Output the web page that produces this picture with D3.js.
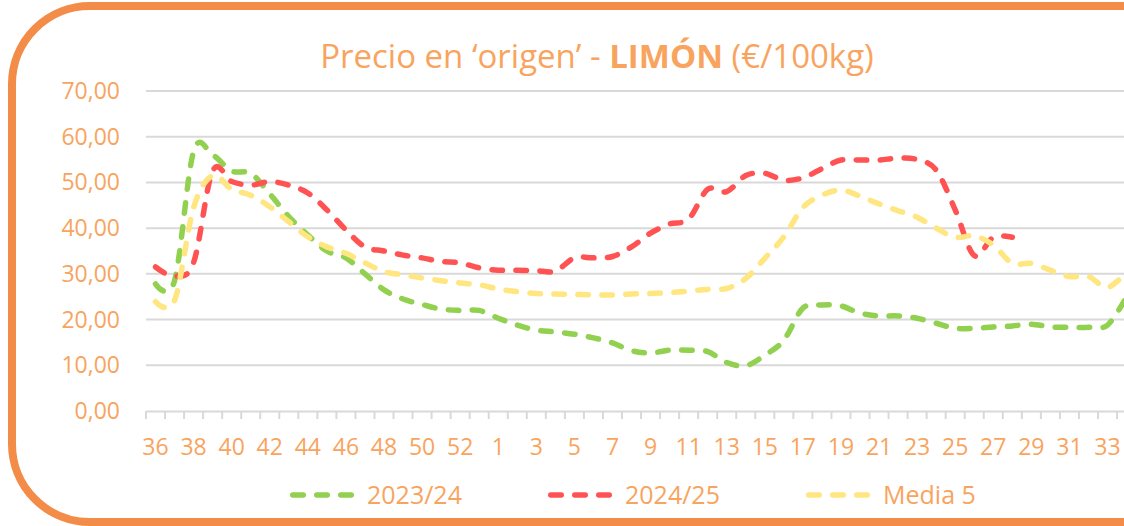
<!DOCTYPE html>
<html>
<head>
<meta charset="utf-8">
<script src="https://cdn.jsdelivr.net/npm/d3@7"></script>
<style>
  body { margin: 0; background: #fff; }
  svg  { display: block; font-family: 'Open Sans', sans-serif; }
</style>
</head>
<body>
<svg id="chart" width="1124" height="526"></svg>
<script>
'use strict';

// weeks of the campaign (36..53, then 1..35)
const weeks = [ '36','37','38','39','40','41','42','43','44','45','46','47','48','49','50','51','52','53',
                '1','2','3','4','5','6','7','8','9','10','11','12','13','14','15','16','17','18','19','20',
                '21','22','23','24','25','26','27','28','29','30','31','32','33','34','35' ];

// €/100kg per week
const s2324 = [ 27.8, 28.5, 56.8, 56.0, 52.5, 52.0, 47.5, 42.5, 38.5, 35.0, 33.5, 30.0, 26.5, 24.5, 23.3, 22.3, 22.0, 22.0,
                20.3, 18.8, 17.7, 17.3, 16.8, 16.0, 14.9, 13.2, 12.7, 13.3, 13.3, 13.0, 10.6, 9.9, 12.2, 15.5, 22.5, 23.2, 23.0, 21.4,
                20.8, 20.8, 20.3, 19.2, 18.1, 18.1, 18.4, 18.6, 19.0, 18.4, 18.3, 18.3, 18.8, 25.0, null ];

const s2425 = [ 31.5, 29.5, 32.5, 52.5, 50.2, 49.4, 50.2, 49.4, 47.7, 44.0, 39.6, 35.9, 35.0, 34.1, 33.5, 32.7, 32.4, 31.3,
                30.8, 30.8, 30.7, 30.6, 33.5, 33.5, 33.8, 35.9, 38.9, 40.9, 42.0, 48.5, 48.0, 51.5, 52.0, 50.5, 51.0, 53.0, 54.9, 54.9,
                54.9, 55.3, 55.0, 52.7, 44.0, 34.0, 38.0, 38.0, null, null, null, null, null, null, null ];

const media5 = [ 23.9, 24.2, 44.5, 51.5, 48.5, 47.2, 44.7, 41.4, 38.1, 35.9, 34.5, 32.4, 30.5, 29.8, 29.1, 28.5, 28.0, 27.6,
                 26.7, 26.1, 25.7, 25.6, 25.5, 25.4, 25.4, 25.6, 25.7, 25.9, 26.2, 26.6, 26.8, 29.0, 33.4, 38.1, 44.5, 47.2, 48.3, 47.0,
                 45.3, 43.8, 42.4, 40.0, 38.0, 38.3, 36.3, 32.3, 32.3, 30.8, 29.4, 29.4, 27.0, 30.5, null ];

const seriesNames  = [ '2023/24', '2024/25', 'Media 5' ];
const seriesColors = [ '#92D050', '#FF5353', '#FFE680' ];
const yTicks       = [ 0, 10, 20, 30, 40, 50, 60, 70 ];

const series = [ s2324, s2425, media5 ].map( (vals, i) => ({ name: seriesNames[i], color: seriesColors[i], values: vals }) );

const textColor = '#F8A45E',
      gridColor = '#D9D9D9';

const svg = d3.select( '#chart' );

// frame
svg.append( 'rect' )
    .attr( 'x', 12 ).attr( 'y', 6 )
    .attr( 'width', 1400 ).attr( 'height', 516 )
    .attr( 'rx', 78 ).attr( 'ry', 78 )
    .attr( 'fill', '#fff' )
    .attr( 'stroke', '#F28C48' )
    .attr( 'stroke-width', 8 );

// scales
const x = d3.scaleBand()
            .domain( weeks )
            .range( [ 146, 146 + weeks.length * 19.04 ] )
            .padding( 0 );
const y = d3.scaleLinear()
            .domain( [ 0, 70 ] )
            .range( [ 411, 91 ] );

const fmt = d3.formatLocale( { decimal: ',', thousands: '.', grouping: [3], currency: [ '', '€' ] } ).format( '.2f' );

// title
const title = svg.append( 'text' )
    .attr( 'x', 597 ).attr( 'y', 68 )
    .attr( 'text-anchor', 'middle' )
    .attr( 'fill', textColor )
    .style( 'font-size', '33px' );
title.append( 'tspan' ).text( 'Precio en ‘origen’ - ' );
title.append( 'tspan' ).attr( 'font-weight', 'bold' ).text( 'LIMÓN' );
title.append( 'tspan' ).text( ' (€/100kg)' );

// gridlines + y labels
const yAxis = svg.append( 'g' ).attr( 'class', 'y axis' );
yAxis.selectAll( 'line' )
    .data( yTicks.filter( (d) => d > 0 ) )
  .enter().append( 'line' )
    .attr( 'x1', x.range()[0] ).attr( 'x2', x.range()[1] )
    .attr( 'y1', (d) => y( d ) ).attr( 'y2', (d) => y( d ) )
    .attr( 'stroke', gridColor )
    .attr( 'stroke-width', 2 );
yAxis.selectAll( 'text' )
    .data( yTicks )
  .enter().append( 'text' )
    .attr( 'x', 120 )
    .attr( 'y', (d) => y( d ) )
    .attr( 'dy', '0.35em' )
    .attr( 'text-anchor', 'end' )
    .attr( 'fill', textColor )
    .style( 'font-size', '23px' )
    .text( (d) => fmt( d ) );

// x axis: ticks between categories, label every second week
const xAxis = d3.axisBottom( x )
    .tickSize( 0 )
    .tickFormat( (d, i) => i % 2 === 0 ? d : '' );
const xg = svg.append( 'g' )
    .attr( 'class', 'x axis' )
    .attr( 'transform', `translate(0,${y( 0 )})` )
    .call( xAxis );
xg.select( '.domain' ).attr( 'stroke', gridColor ).attr( 'stroke-width', 2 );
xg.selectAll( 'text' )
    .attr( 'y', 36 )
    .attr( 'dy', '0.35em' )
    .attr( 'fill', textColor )
    .style( 'font-size', '23px' )
    .style( 'font-family', "'Open Sans', sans-serif" );
xg.selectAll( '.boundary' )
    .data( weeks )
  .enter().append( 'line' )
    .attr( 'class', 'boundary' )
    .attr( 'x1', (d) => x( d ) ).attr( 'x2', (d) => x( d ) )
    .attr( 'y1', 0 ).attr( 'y2', 8 )
    .attr( 'stroke', gridColor )
    .attr( 'stroke-width', 2 );

// lines
const line = d3.line()
    .defined( (d) => d != null )
    .x( (d, i) => x( weeks[i] ) + x.bandwidth() / 2 )
    .y( (d) => y( d ) )
    .curve( d3.curveCardinal.tension( 0 ) );

svg.append( 'g' )
    .attr( 'class', 'lines' )
  .selectAll( 'path' )
    .data( series )
  .enter().append( 'path' )
    .attr( 'd', (d) => line( d.values ) )
    .attr( 'fill', 'none' )
    .attr( 'stroke', (d) => d.color )
    .attr( 'stroke-width', 5.5 )
    .attr( 'stroke-linecap', 'round' )
    .attr( 'stroke-dasharray', '10.5,13.5' );

// legend
const legendX = [ 290, 548, 806 ];
const legend = svg.append( 'g' ).attr( 'class', 'legend' )
  .selectAll( 'g' )
    .data( series )
  .enter().append( 'g' )
    .attr( 'transform', (d, i) => `translate(${legendX[i]},495)` );
legend.append( 'line' )
    .attr( 'x1', 2.75 ).attr( 'x2', 62.25 )
    .attr( 'y1', 0 ).attr( 'y2', 0 )
    .attr( 'stroke', (d) => d.color )
    .attr( 'stroke-width', 5.5 )
    .attr( 'stroke-linecap', 'round' )
    .attr( 'stroke-dasharray', '10.5,13.5' );
legend.append( 'text' )
    .attr( 'x', 77 )
    .attr( 'y', 0 )
    .attr( 'dy', '0.35em' )
    .attr( 'fill', textColor )
    .style( 'font-size', '25px' )
    .text( (d) => d.name );
</script>
</body>
</html>
